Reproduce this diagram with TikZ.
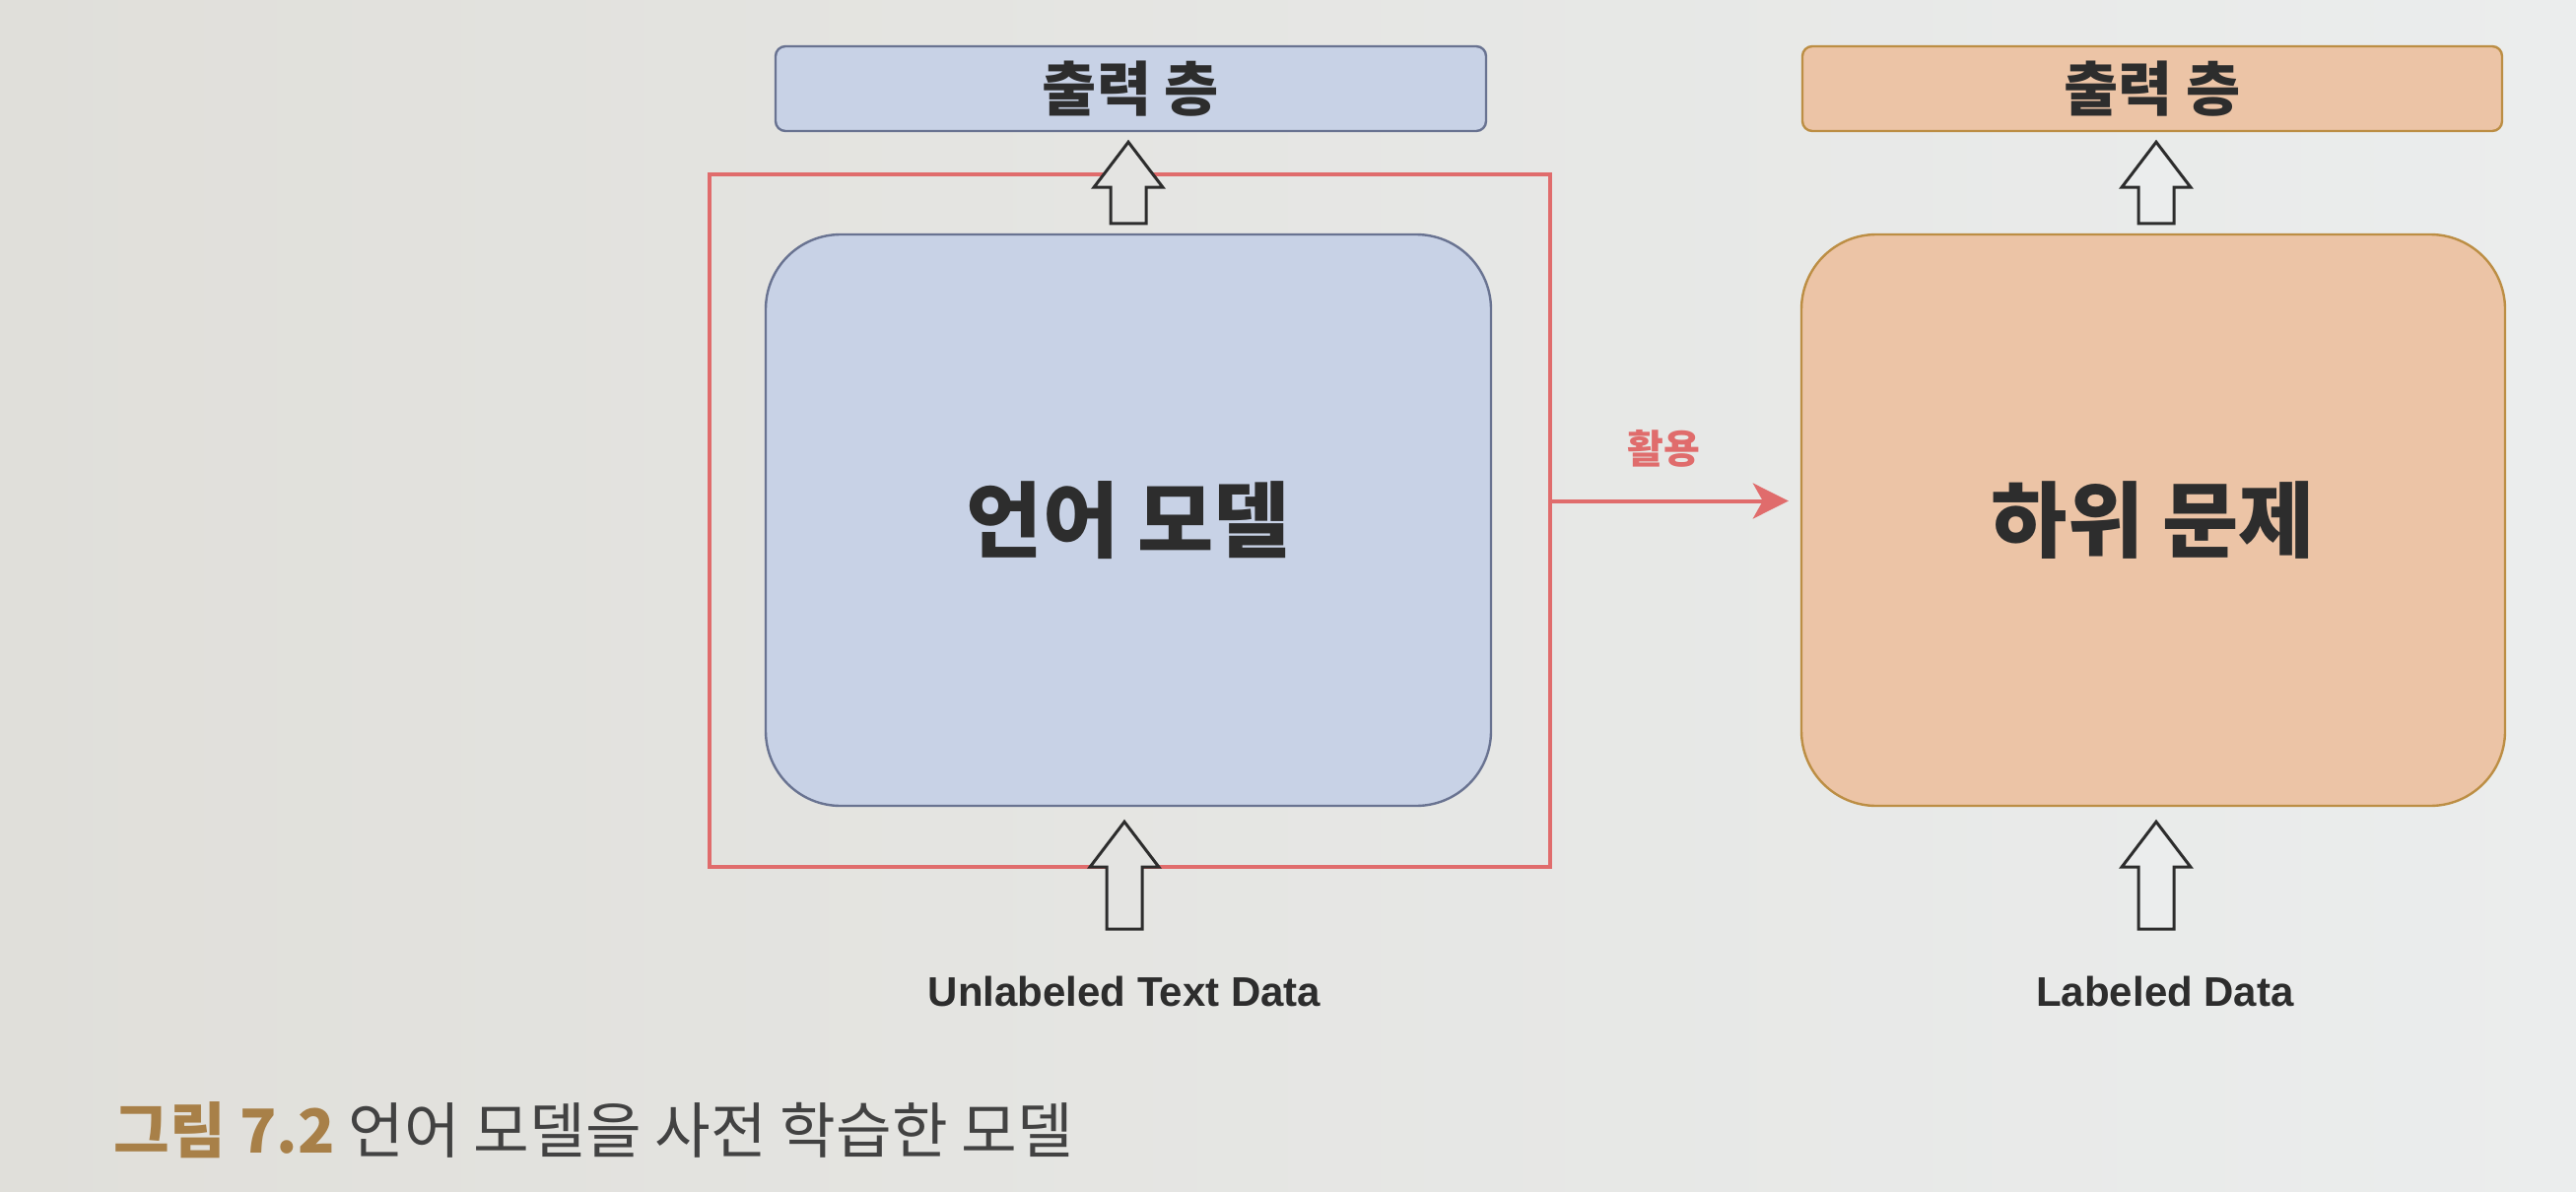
\documentclass[tikz,border=0pt]{standalone}
\usepackage{fontspec}
\setmainfont{Liberation Sans}
\newfontfamily\kr{Noto Sans CJK KR}
\usetikzlibrary{arrows.meta,calc}
\definecolor{bgL}{RGB}{224,223,218}
\definecolor{bgR}{RGB}{235,237,237}
\definecolor{blueF}{RGB}{200,210,230}
\definecolor{blueD}{RGB}{105,115,145}
\definecolor{peachF}{RGB}{236,196,166}
\definecolor{peachD}{RGB}{188,142,68}
\definecolor{redL}{RGB}{224,108,108}
\definecolor{ink}{RGB}{45,45,45}
\definecolor{gold}{RGB}{168,128,72}
\newcommand\blockarr[3]{%
  \fill[#3] let \p1=(#1), \p2=(#2) in
    (\x1-4.5pt,\y1) -- (\x1-4.5pt,\y2-11.5pt) -- (\x1-8.75pt,\y2-11.5pt) --
    (\x1,\y2) -- (\x1+8.75pt,\y2-11.5pt) -- (\x1+4.5pt,\y2-11.5pt) --
    (\x1+4.5pt,\y1) -- cycle;
  \draw[hollowline] let \p1=(#1), \p2=(#2) in
    (\x1-4.5pt,\y1) -- (\x1-4.5pt,\y2-11.5pt) -- (\x1-8.75pt,\y2-11.5pt) --
    (\x1,\y2) -- (\x1+8.75pt,\y2-11.5pt) -- (\x1+4.5pt,\y2-11.5pt) --
    (\x1+4.5pt,\y1) -- cycle;}
\begin{document}
\begin{tikzpicture}[x=0.25pt,y=-0.25pt,
  topbox/.style={draw, rounded corners=2.5pt, minimum height=21.5pt,
    inner sep=0pt, line width=0.6pt, text=ink,
    font=\kr\bfseries\fontsize{15}{18}\selectfont},
  bigbox/.style={draw, rounded corners=19pt, minimum height=145pt,
    inner sep=0pt, line width=0.6pt, text=ink,
    font=\kr\bfseries\fontsize{21}{25}\selectfont},
  datalabel/.style={text=ink, font=\bfseries\fontsize{10.5}{12}\selectfont, inner sep=0pt},
  hollowline/.style={draw=ink, line width=0.75pt, line join=miter},
  redframe/.style={draw=redL, line width=1pt, minimum width=213.25pt,
    minimum height=175.75pt, inner sep=0pt},
  redarrow/.style={draw=redL, line width=1pt,
    -{Stealth[length=9pt,width=9pt,inset=2.5pt]}}]
\shade[left color=bgL,right color=bgR] (0,0) rectangle (2614,1210);
\useasboundingbox (0,0) rectangle (2614,1210);

% red frame
\node[redframe] (frame) at (1146.5,528.5) {};

% boxes
\node[topbox, fill=blueF, draw=blueD, minimum width=180.25pt] (lt) at (1147.5,90) {출력 층};
\node[bigbox, fill=blueF, draw=blueD, minimum width=184pt] (lm) at (1145,528) {\raisebox{-3pt}{언어 모델}};
\node[topbox, fill=peachF, draw=peachD, minimum width=177.5pt] (rt) at (2184,90) {출력 층};
\node[bigbox, fill=peachF, draw=peachD, minimum width=178.5pt] (rm) at (2185,528) {\raisebox{-3pt}{하위 문제}};

% data labels
\node[datalabel] (ul) at (1141,1006) {Unlabeled Text Data};
\node[datalabel] (ld) at (2197,1006) {Labeled Data};

% hollow arrows
\coordinate (a1b) at ($(lm.north)+(0,-10)$);
\coordinate (a1t) at ($(lt.south)+(0,10)$);
\blockarr{a1b}{a1t}{bgL!60!bgR}
\coordinate (a2b) at (1141,943);
\coordinate (a2t) at ($(lm.south)+(-4,15)$);
\blockarr{a2b}{a2t}{bgL!60!bgR}
\coordinate (a3b) at ($(rm.north)+(3,-10)$);
\coordinate (a3t) at ($(rt.south)+(4,10)$);
\blockarr{a3b}{a3t}{bgR}
\coordinate (a4b) at (2188,943);
\coordinate (a4t) at ($(rm.south)+(3,15)$);
\blockarr{a4b}{a4t}{bgR}

% red arrow
\coordinate (ra) at ($(frame.east)+(0,-20)$);
\draw[redarrow, shorten >=3pt] (ra) -- (rm.west |- ra)
  node[pos=0.45, above=8pt, text=redL, font=\kr\bfseries\fontsize{10}{12}\selectfont, inner sep=0pt] (use) {활용};

% caption
\node[anchor=west, inner sep=0pt, font=\kr\fontsize{15.4}{18}\selectfont, text=ink!90] (cap) at (115,1147)
  {{\bfseries\color{gold}그림 7.2} 언어 모델을 사전 학습한 모델};
\end{tikzpicture}
\end{document}
